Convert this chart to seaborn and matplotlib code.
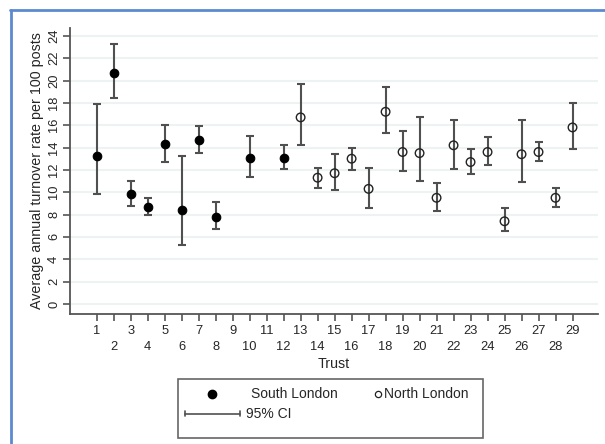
import numpy as np
import pandas as pd
import matplotlib
matplotlib.use("Agg")
import matplotlib.pyplot as plt
from matplotlib.lines import Line2D
from matplotlib.patches import Rectangle
import seaborn as sns

# Trust-level average annual turnover (per 100 posts) with 95% confidence limits
south_trust = [1, 2, 3, 4, 5, 6, 7, 8, 10, 12]
south_rate = [13.2, 20.7, 9.8, 8.7, 14.3, 8.4, 14.7, 7.8, 13.1, 13.1]
south_low = [9.8, 18.4, 8.8, 8.0, 12.7, 5.3, 13.5, 6.7, 11.4, 12.1]
south_high = [17.9, 23.3, 11.0, 9.5, 16.0, 13.2, 15.9, 9.1, 15.0, 14.2]

north_trust = [13, 14, 15, 16, 17, 18, 19, 20, 21, 22, 23, 24, 25, 26, 27, 28, 29]
north_rate = [16.7, 11.3, 11.7, 13.0, 10.3, 17.2, 13.6, 13.5, 9.5, 14.2, 12.7,
              13.6, 7.4, 13.4, 13.6, 9.5, 15.8]
north_low = [14.2, 10.4, 10.2, 12.0, 8.6, 15.3, 11.9, 11.0, 8.3, 12.1, 11.6,
             12.4, 6.5, 10.9, 12.8, 8.7, 13.9]
north_high = [19.7, 12.2, 13.4, 14.0, 12.2, 19.4, 15.5, 16.7, 10.8, 16.5, 13.9,
              14.9, 8.6, 16.5, 14.5, 10.4, 18.0]

y_ticks = list(range(0, 25, 2))
x_ticks = list(range(1, 30))

south = pd.DataFrame({"trust": south_trust, "rate": south_rate,
                      "low": south_low, "high": south_high})
north = pd.DataFrame({"trust": north_trust, "rate": north_rate,
                      "low": north_low, "high": north_high})

sns.set_theme(style="white")
plt.rcParams["font.family"] = ["Liberation Sans", "DejaVu Sans"]

TICK_FS = 9.3
LABEL_FS = 10.3
LEG_FS = 10.0

W, H = 605, 444
fig = plt.figure(figsize=(W / 100, H / 100), dpi=100)
ax = fig.add_axes([70 / W, 1 - 314 / H, (598 - 70) / W, (314 - 28) / H])

grid_col = "#edf2f2"
axis_col = "#555555"
bar_col = "#505050"

for yv in y_ticks:
    ax.axhline(yv, color=grid_col, lw=1.5, zorder=0)

# confidence intervals
for df in (south, north):
    ax.errorbar(df["trust"], df["rate"],
                yerr=[df["rate"] - df["low"], df["high"] - df["rate"]],
                fmt="none", ecolor=bar_col, elinewidth=1.5,
                capsize=3.2, capthick=1.5, zorder=2)

# point estimates
sns.scatterplot(data=south, x="trust", y="rate", ax=ax, color="black",
                marker="o", s=38, edgecolor="black", linewidth=0.8, zorder=3)
sns.scatterplot(data=north, x="trust", y="rate", ax=ax, marker="o", s=38,
                facecolor="none", edgecolor="#222222", linewidth=1.0, zorder=3)

ax.set_xlim(-0.57, 30.5)
ax.set_ylim(-0.9, 24.7)

for side in ("top", "right"):
    ax.spines[side].set_visible(False)
for side in ("left", "bottom"):
    ax.spines[side].set_color(axis_col)
    ax.spines[side].set_linewidth(1.3)

ax.set_yticks(y_ticks)
ax.set_yticklabels([str(v) for v in y_ticks], rotation=90, va="center")
ax.tick_params(axis="y", which="major", direction="out", length=5, width=1.2,
               color=axis_col, pad=2.2, labelsize=TICK_FS, left=True)

odd = [t for t in x_ticks if t % 2 == 1]
even = [t for t in x_ticks if t % 2 == 0]
ax.set_xticks(odd)
ax.set_xticklabels([str(t) for t in odd])
ax.set_xticks(even, minor=True)
ax.set_xticklabels([str(t) for t in even], minor=True)
ax.tick_params(axis="x", which="major", direction="out", length=5, width=1.2,
               color=axis_col, pad=3.0, labelsize=TICK_FS, bottom=True)
ax.tick_params(axis="x", which="minor", direction="out", length=5, width=1.2,
               color=axis_col, pad=14.5, labelsize=TICK_FS, bottom=True)

ax.set_xlabel("Trust", fontsize=LABEL_FS)
ax.set_ylabel("Average annual turnover rate per 100 posts", fontsize=LABEL_FS)
ax.xaxis.set_label_coords(0.5, -(357 - 314) / (314 - 28))
ax.yaxis.set_label_coords(-(70 - 44) / (598 - 70), 0.5)

# legend box drawn in figure coordinates
def fx(px):
    return px / W

def fy(py):
    return 1 - py / H

fig.patches.append(Rectangle((fx(178), fy(438)), fx(483) - fx(178),
                             fy(379) - fy(438), transform=fig.transFigure,
                             fill=False, edgecolor="#666666", lw=1.2))
row1, row2 = 394, 413.5
fig.lines.append(Line2D([fx(212)], [fy(row1)], transform=fig.transFigure,
                        marker="o", markersize=6, color="black", ls="none"))
fig.text(fx(251), fy(row1), "South London", fontsize=LEG_FS, va="center",
         ha="left")
fig.lines.append(Line2D([fx(378)], [fy(row1)], transform=fig.transFigure,
                        marker="o", markersize=4.5, markerfacecolor="white",
                        markeredgecolor="#222222", markeredgewidth=0.9,
                        ls="none"))
fig.text(fx(384), fy(row1), "North London", fontsize=LEG_FS, va="center",
         ha="left")
fig.lines.append(Line2D([fx(185), fx(240)], [fy(row2), fy(row2)],
                        transform=fig.transFigure, color=bar_col, lw=1.2))
for cx in (185, 240):
    fig.lines.append(Line2D([fx(cx), fx(cx)], [fy(row2 - 2.5), fy(row2 + 2.5)],
                            transform=fig.transFigure, color=bar_col, lw=1.2))
fig.text(fx(246), fy(row2), "95% CI", fontsize=LEG_FS, va="center", ha="left")

# outer graph-region frame (top and left edges visible)
frame_col = "#5b8ad0"
fig.lines.append(Line2D([fx(10), 1.0], [fy(10), fy(10)],
                        transform=fig.transFigure, color=frame_col, lw=2))
fig.lines.append(Line2D([fx(10.5), fx(10.5)], [fy(10), 0.0],
                        transform=fig.transFigure, color=frame_col, lw=2))

fig.savefig("out.png", dpi=100, facecolor="white")
